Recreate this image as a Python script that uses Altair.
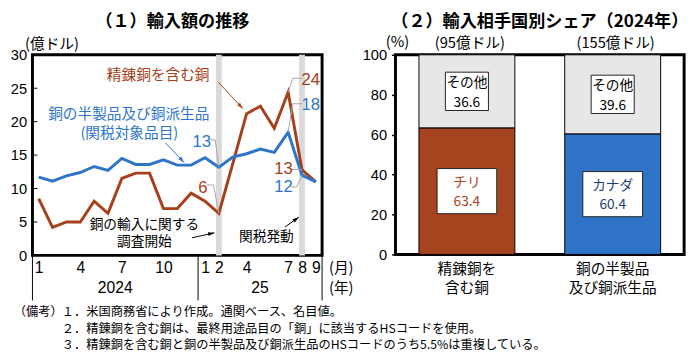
import math
import altair as alt
import pandas as pd

# ---------------- data ----------------
month_index = list(range(21))  # 0 = Jan 2024 ... 20 = Sep 2025
refined_copper = [8.5, 4.2, 5.0, 5.0, 8.1, 6.3, 11.5, 12.3, 12.3, 7.0, 7.0, 9.3,
                  8.1, 6.3, 13.7, 21.2, 22.3, 19.0, 24.4, 12.8, 11.0]
semi_products = [11.7, 11.1, 11.9, 12.4, 13.3, 12.7, 14.5, 13.6, 13.6, 14.3, 13.5, 13.5,
                 14.6, 13.2, 14.7, 15.2, 15.9, 15.4, 18.4, 12.0, 11.0]
month_tick_index = [0, 3, 6, 9, 12, 13, 15, 18, 19, 20]
year_labels = ["2024", "25"]
year_bounds = [-0.45, 11.5, 20.45]
event_index = [13, 19]  # Feb 2025, Aug 2025
y_ticks_left = [0, 5, 10, 15, 20, 25, 30]

share_categories = ["精錬銅を含む銅", "銅の半製品及び銅派生品"]
share_category_lines = ["精錬銅を\n含む銅", "銅の半製品\n及び銅派生品"]
share_top_country = ["チリ", "カナダ"]
share_top_value = [63.4, 60.4]
share_other_value = [36.6, 39.6]
share_total_oku = [95, 155]
y_ticks_right = [0, 20, 40, 60, 80, 100]

footnotes = [
    "１．米国商務省により作成。通関ベース、名目値。",
    "２．精錬銅を含む銅は、最終用途品目の「銅」に該当するHSコードを使用。",
    "３．精錬銅を含む銅と銅の半製品及び銅派生品のHSコードのうち5.5%は重複している。",
]

# ---------------- styles / layout ----------------
RED = "#A7401A"
BLUE = "#2E75C9"
RED_BAR = "#A5441F"
BLUE_BAR = "#2E73C5"
GRAY_BAR = "#E7E7E7"
RED_TXT = "#A8431E"
NAVY_TXT = "#1F3D7A"
LEADER = "#A6A6A6"
NARROW = "'Liberation Sans Narrow', 'Liberation Sans', sans-serif"
JP = "'Noto Sans CJK JP', sans-serif"

W1, H1 = 296, 205
W2, H2 = 295, 204
XD = [-0.45, 20.45]
YD = [0, 30]
SX = W1 / (XD[1] - XD[0])
SY = H1 / (YD[1] - YD[0])
XS = alt.Scale(domain=XD, nice=False, zero=False)
YS = alt.Scale(domain=YD, nice=False, zero=False)

AX_X = alt.Axis(
    values=month_tick_index,
    labelExpr="datum.value < 12 ? datum.value + 1 : datum.value - 11",
    ticks=False, domain=False, grid=False, title=None, labelPadding=4,
    labelFont=NARROW, labelFontSize=16, labelColor="black",
    labelOverlap=False, labelFlush=False)
AX_Y = alt.Axis(
    values=y_ticks_left, ticks=False, domain=False, grid=False, title=None,
    labelPadding=6, labelFont=NARROW, labelFontSize=15, labelColor="black")


def PX(field):
    return alt.X(field, scale=XS, axis=AX_X)


def PY(field):
    return alt.Y(field, scale=YS, axis=AX_Y)


def ptext(t, x, y, **kw):
    return alt.Chart(pd.DataFrame({"t": [t]})).mark_text(**kw).encode(
        x=alt.value(x), y=alt.value(y), text="t:N")


def dtext(rows, **kw):
    df = pd.DataFrame(rows, columns=["t", "x", "y"])
    return alt.Chart(df).mark_text(**kw).encode(x=PX("x:Q"), y=PY("y:Q"), text="t:N")


def arrow(x1, y1, x2, y2, color):
    df = pd.DataFrame({"x": [x1], "y": [y1], "xe": [x2], "ye": [y2]})
    dx = (x2 - x1) * SX
    dys = -(y2 - y1) * SY
    ang = math.degrees(math.atan2(dx, -dys)) % 360
    shaft = alt.Chart(df).mark_rule(color=color, strokeWidth=1).encode(
        x=PX("x:Q"), y=PY("y:Q"), x2="xe:Q", y2="ye:Q")
    head = alt.Chart(df).mark_point(shape="M0,0L-0.5,1.6L0.5,1.6Z", filled=True, size=64,
                                    color=color, opacity=1, angle=ang).encode(
        x=PX("xe:Q"), y=PY("ye:Q"))
    return shaft + head


# ---------------- left panel ----------------
line_df = pd.DataFrame({
    "m": month_index * 2,
    "v": refined_copper + semi_products,
    "s": ["refined"] * len(month_index) + ["semi"] * len(month_index),
})

bands = alt.Chart(pd.DataFrame({"m": event_index})).mark_rule(
    color="#DADADA", strokeWidth=6).encode(
    x=PX("m:Q"), y=alt.value(0), y2=alt.value(H1))

ticks_in = alt.Chart(pd.DataFrame({"t": y_ticks_left[1:-1]})).mark_rule(
    color="black", strokeWidth=1).encode(
    y=PY("t:Q"), x=alt.value(0), x2=alt.value(5))

lines = alt.Chart(line_df).mark_line(strokeWidth=3).encode(
    x=PX("m:Q"),
    y=PY("v:Q"),
    color=alt.Color("s:N", scale=alt.Scale(domain=["refined", "semi"], range=[RED, BLUE]),
                    legend=None),
)

seps = alt.Chart(pd.DataFrame({"m": year_bounds})).mark_rule(
    color="black", strokeWidth=1).encode(
    x=PX("m:Q"), y=alt.value(H1), y2=alt.value(H1 + 46))

year_centers = [(year_bounds[i] + year_bounds[i + 1]) / 2 for i in range(len(year_labels))]
years = alt.Chart(pd.DataFrame({"m": year_centers, "t": year_labels})).mark_text(
    font=NARROW, fontSize=16, baseline="middle", color="black").encode(
    x=PX("m:Q"), y=alt.value(238), text="t:N")

leaders = [
    [(12.33, 17.27), (12.74, 17.27), (13, semi_products[13])],
    [(12.12, 10.54), (12.61, 10.54), (13, refined_copper[13])],
    [(19.04, 26.49), (18.33, 26.49), (18, refined_copper[18])],
    [(19.04, 22.68), (18.33, 22.68), (18, semi_products[18])],
    [(18.19, 12.88), (19, refined_copper[19])],
    [(18.19, 10.24), (18.61, 10.24), (19, semi_products[19])],
]
leader_rows = [{"id": i, "o": j, "x": x, "y": y}
               for i, pts in enumerate(leaders) for j, (x, y) in enumerate(pts)]
leader_lines = alt.Chart(pd.DataFrame(leader_rows)).mark_line(
    color=LEADER, strokeWidth=1).encode(
    x=PX("x:Q"), y=PY("y:Q"), detail="id:N", order="o:Q")

red_cjk = dtext([("精錬銅を含む銅", 8.62, 26.93)], font=JP, fontSize=15, color=RED, baseline="middle")
blue_cjk = dtext([("銅の半製品及び銅派生品", 6.50, 21.07), ("(関税対象品目)", 6.54, 18.29)],
                 font=JP, fontSize=15, color=BLUE, baseline="middle")
black_cjk = dtext([("銅の輸入に関する", 7.63, 4.60), ("調査開始", 7.63, 2.00), ("関税発動", 16.43, 2.78)],
                  font=JP, fontSize=14, color="black", baseline="middle")
red_num = dtext([(str(round(refined_copper[13])), 11.84, 10.1),
                 (str(round(refined_copper[18])), 19.64, 26.27),
                 (str(round(refined_copper[19])), 17.66, 12.88)],
                font=NARROW, fontSize=17, color=RED, baseline="middle")
blue_num = dtext([(str(round(semi_products[13])), 11.77, 16.98),
                  (str(round(semi_products[18])), 19.64, 22.54),
                  (str(round(semi_products[19])), 17.66, 10.17)],
                 font=NARROW, fontSize=17, color=BLUE, baseline="middle")

arrows = (arrow(12.97, 25.9, 14.73, 21.95, RED)
          + arrow(9.15, 16.83, 10.49, 13.90, BLUE)
          + arrow(11.06, 2.63, 12.68, 3.37, "black")
          + arrow(17.77, 4.24, 18.76, 5.71, "black"))

left_texts = (
    ptext("（１）輸入額の推移", 143, -33, font=JP, fontSize=17.5, fontWeight="bold",
          baseline="middle", align="center", color="black")
    + ptext("(億ドル)", 20, -11, font=JP, fontSize=15, baseline="middle", align="center", color="black")
    + ptext("(月)", 303, 218, font=JP, fontSize=15, baseline="middle", align="left", color="black")
    + ptext("(年)", 303, 238, font=JP, fontSize=15, baseline="middle", align="left", color="black")
    + ptext("（備考）", -19, 263, font=JP, fontSize=12.5, baseline="middle", align="left", color="black")
    + ptext(footnotes[0], 30, 263, font=JP, fontSize=12.5, baseline="middle", align="left", color="black")
    + ptext(footnotes[1], 30, 280, font=JP, fontSize=12.5, baseline="middle", align="left", color="black")
    + ptext(footnotes[2], 30, 297, font=JP, fontSize=12.5, baseline="middle", align="left", color="black")
)

left = alt.layer(
    bands, ticks_in, lines, seps, years, leader_lines,
    red_cjk, blue_cjk, black_cjk, red_num, blue_num, arrows, left_texts
).properties(width=W1, height=H1)

# ---------------- right panel ----------------
XB = alt.Scale(domain=share_categories, paddingInner=0.342, paddingOuter=0.161)
YB = alt.Scale(domain=[0, 100], nice=False, zero=True)
AX_YR = alt.Axis(
    values=y_ticks_right, tickSize=4, tickWidth=1.5, tickColor="black",
    domain=False, grid=False, title=None, labelPadding=5,
    labelFont=NARROW, labelFontSize=15, labelColor="black")
n = len(share_categories)


def BX():
    return alt.X("cat:N", scale=XB, axis=None)


def BY(field, **kw):
    return alt.Y(field, scale=YB, axis=AX_YR, **kw)


bar_df = pd.DataFrame({
    "cat": share_categories * 2,
    "v": share_top_value + share_other_value,
    "key": ["c%d" % i for i in range(n)] + ["o"] * n,
    "ord": [0] * n + [1] * n,
})
bars = alt.Chart(bar_df).mark_bar(stroke="black", strokeWidth=1).encode(
    x=BX(),
    y=BY("v:Q", stack="zero"),
    color=alt.Color("key:N", scale=alt.Scale(domain=["c0", "c1", "o"],
                                             range=[RED_BAR, BLUE_BAR, GRAY_BAR]), legend=None),
    order=alt.Order("ord:Q"),
)

lab = pd.DataFrame({
    "cat": share_categories * 2,
    "name": share_top_country + ["その他"] * n,
    "val": share_top_value + share_other_value,
    "mid": [v / 2 for v in share_top_value]
           + [a + b / 2 for a, b in zip(share_top_value, share_other_value)],
    "kind": ["c%d" % i for i in range(n)] + ["o"] * n,
})
lab["num"] = lab["val"].map(lambda v: f"{v:.1f}")


def boxes(flt, half, width):
    return alt.Chart(lab).transform_filter(flt).transform_calculate(
        lo=f"datum.mid - {half}", hi=f"datum.mid + {half}").mark_bar(
        width=width, fill="white", stroke="#222222", strokeWidth=1).encode(
        x=BX(), y=BY("lo:Q"), y2="hi:Q")


def box_text(flt, color, field, dy):
    return alt.Chart(lab).transform_filter(flt).mark_text(
        fontSize=14, font=JP, color=color, baseline="middle", dy=dy).encode(
        x=BX(), y=BY("mid:Q"), text=f"{field}:N")


box_layers = (
    boxes("datum.kind == 'o'", 9.6, 44)
    + boxes("datum.kind != 'o'", 11.3, 61)
    + box_text("datum.kind == 'o'", "black", "name", -8)
    + box_text("datum.kind == 'o'", "black", "num", 12)
    + box_text("datum.kind == 'c0'", RED_TXT, "name", -8)
    + box_text("datum.kind == 'c0'", RED_TXT, "num", 11)
    + box_text("datum.kind == 'c1'", NAVY_TXT, "name", -8)
    + box_text("datum.kind == 'c1'", NAVY_TXT, "num", 11)
)

tot = pd.DataFrame({"cat": share_categories, "tot": share_total_oku})
top_labels = alt.Chart(tot).transform_calculate(
    t="'(' + datum.tot + '億ドル)'").mark_text(
    fontSize=15, font=JP, dx=3, baseline="middle", color="black").encode(
    x=BX(), y=alt.value(-12), text="t:N")

cat_labels = alt.Chart(pd.DataFrame({"cat": share_categories, "t": share_category_lines})).mark_text(
    lineBreak="\n", lineHeight=19, fontSize=15, font=JP, baseline="middle", color="black").encode(
    x=BX(), y=alt.value(219), text="t:N")

right_texts = (
    ptext("（２）輸入相手国別シェア（2024年）", W2 / 2, -33, font=JP, fontSize=17.5,
          fontWeight="bold", baseline="middle", align="center", color="black")
    + ptext("(%)", 2, -12.5, font=JP, fontSize=15, baseline="middle", align="center", color="black")
)

right = alt.layer(bars, box_layers, top_labels, cat_labels, right_texts).properties(
    width=W2, height=H2)

chart = alt.hconcat(left, right, spacing=75, bounds="flush").resolve_scale(
    color="independent").properties(padding=0).configure_view(
    stroke="black", strokeWidth=3).configure_axis(labelColor="black", tickColor="black")

chart.save("out.html", embed_options={"renderer": "svg", "actions": False})
